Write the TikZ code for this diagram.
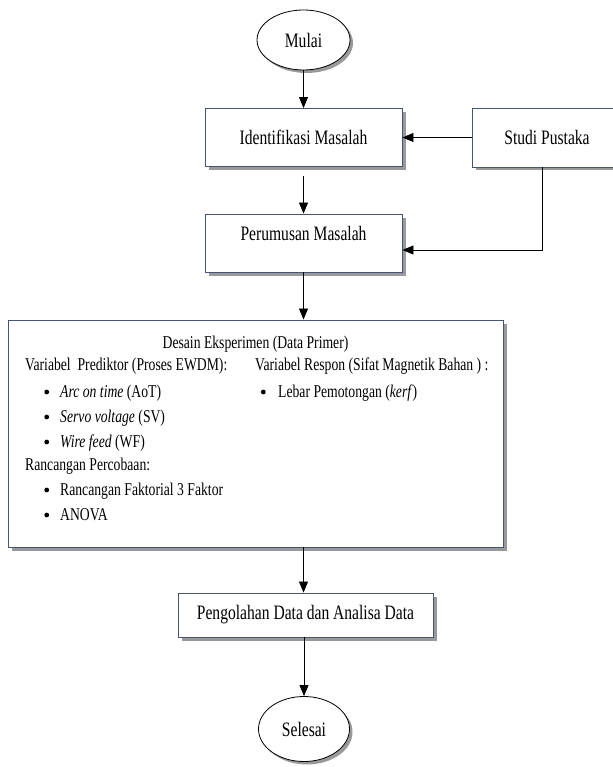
\documentclass[tikz,border=0pt]{standalone}
\usepackage{fontspec}
\setmainfont[FakeStretch=0.76]{Liberation Serif}
\usetikzlibrary{shapes.geometric, shadows, arrows.meta}
\definecolor{boxline}{RGB}{70,85,115}
\tikzset{>={Triangle[length=11pt,width=9pt]}}
\tikzset{
  procbox/.style={draw=boxline, fill=white, line width=0.9pt,
    minimum width=197pt, minimum height=58pt,
    font=\fontsize{20.5}{23}\selectfont,
    drop shadow={shadow xshift=3.5pt, shadow yshift=-3.5pt, fill=gray!80, opacity=1}},
  terminal/.style={ellipse, draw=black, fill=white, line width=0.8pt,
    font=\fontsize{20.5}{23}\selectfont,
    drop shadow={shadow xshift=3pt, shadow yshift=-3pt, fill=gray!80, opacity=1}},
  txt/.style={anchor=base west, inner sep=0pt, font=\fontsize{18}{21}\selectfont},
  titik/.style={circle, fill=black, inner sep=0pt, minimum size=4.8pt},
  panah/.style={->, line width=0.8pt}
}
\begin{document}
\begin{tikzpicture}[x=1pt, y=-1pt]
  \useasboundingbox (0,0) rectangle (612,767);
  % flow boxes
  \node[terminal, minimum width=93pt, minimum height=60pt] (mulai) at (303.5,40) {Mulai};
  \node[procbox] (ident) at (303.5,137.5) {Identifikasi Masalah};
  \node[procbox, minimum width=150pt, minimum height=59pt] (studi) at (547,137.5) {Studi Pustaka};
  \node[procbox, text height=14pt, text depth=20pt] (perum) at (303.5,243) {Perumusan Masalah};
  \node[procbox, minimum width=495pt, minimum height=227pt] (desain) at (255.5,433.5) {};
  \node[procbox, minimum width=255pt, minimum height=44pt] (olah) at (305.5,615) {Pengolahan Data dan Analisa Data};
  \node[terminal, minimum width=91pt, minimum height=65pt] (selesai) at (304,729) {Selesai};

  % content of the experiment box
  \node[txt, anchor=base] (judul) at (255.5,348) {Desain Eksperimen (Data Primer)};
  \node[txt] (prediktor) at (25,370) {Variabel\ \ Prediktor (Proses EWDM):};
  \node[txt] (respon) at (255,370) {Variabel Respon (Sifat Magnetik Bahan ) :};
  \foreach \y/\isi in {397/{\textit{Arc on time} (AoT)}, 422/{\textit{Servo voltage} (SV)}, 447/{\textit{Wire feed} (WF)},
                       495/{Rancangan Faktorial 3 Faktor}, 520/{ANOVA}}
  {
    \node[titik] (titik\y) at (46.7,\y-5) {};
    \node[txt] (item\y) at (60,\y) {\isi};
  }
  \node[txt] (rancangan) at (25,470) {Rancangan Percobaan:};
  \node[titik] (titikkerf) at (263.3,392) {};
  \node[txt] (kerf) at (278,397) {Lebar Pemotongan (\textit{kerf})};

  % connectors
  \coordinate (belok) at (542,250);
  \draw[panah] (mulai) -- (ident);
  \draw[panah] (studi) -- (ident);
  \draw[panah] ([yshift=-9pt]ident.south) -- (perum);
  \draw[panah] (studi.south -| belok) -- (belok) -- (perum.east |- belok);
  \draw[panah] (perum.south) -- (perum.south |- desain.north);
  \draw[panah] (perum.south |- desain.south) -- (perum.south |- olah.north);
  \draw[panah] (selesai.north |- olah.south) -- (selesai.north);
\end{tikzpicture}
\end{document}
